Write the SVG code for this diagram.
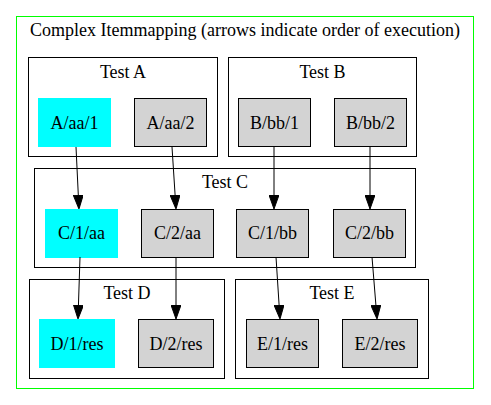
<svg xmlns="http://www.w3.org/2000/svg" width="491" height="405" viewBox="0 0 491 405">
<style>
text{font-family:"Liberation Serif","Times New Roman",serif;font-size:18px;text-anchor:middle;fill:#000}
.cl{fill:none;stroke:#000;stroke-width:1}
.g{fill:#d3d3d3;stroke:#000;stroke-width:1}
.c{fill:#00ffff;stroke:#00ffff;stroke-width:1}
.e{stroke:#000;stroke-width:1;fill:none;marker-end:url(#ah)}
</style>
<defs>
<marker id="ah" markerUnits="userSpaceOnUse" markerWidth="14" markerHeight="10" viewBox="0 0 14 10" refX="0" refY="5" orient="auto">
<path d="M0,0 L14,5 L0,10 z" fill="#000" stroke="#000" stroke-width="1"/>
</marker>
</defs>
<rect width="491" height="405" fill="#fff"/>
<g id="outer">
<rect x="16.5" y="16.5" width="457" height="372" fill="none" stroke="#00ff00" stroke-width="1"/>
<text x="245" y="36">Complex Itemmapping (arrows indicate order of execution)</text>
</g>
<g id="testA">
<rect class="cl" x="28.5" y="57.5" width="189" height="99"/>
<text x="123" y="78">Test A</text>
</g>
<g id="testB">
<rect class="cl" x="228.5" y="57.5" width="188" height="99"/>
<text x="322.5" y="78">Test B</text>
</g>
<g id="testC">
<rect class="cl" x="34.5" y="168.5" width="381" height="99"/>
<text x="225" y="188">Test C</text>
</g>
<g id="testD">
<rect class="cl" x="29.5" y="279.5" width="195" height="99"/>
<text x="127" y="299">Test D</text>
</g>
<g id="testE">
<rect class="cl" x="235.5" y="279.5" width="193" height="99"/>
<text x="332" y="299">Test E</text>
</g>
<g id="A_aa_1"><rect class="c" x="38.5" y="98.5" width="72" height="48"/><text x="74.5" y="128.5">A/aa/1</text></g>
<g id="A_aa_2"><rect class="g" x="134.5" y="98.5" width="72" height="48"/><text x="170.5" y="128.5">A/aa/2</text></g>
<g id="B_bb_1"><rect class="g" x="238.5" y="98.5" width="72" height="48"/><text x="274.5" y="128.5">B/bb/1</text></g>
<g id="B_bb_2"><rect class="g" x="334.5" y="98.5" width="72" height="48"/><text x="370.5" y="128.5">B/bb/2</text></g>
<g id="C_1_aa"><rect class="c" x="45.5" y="209.5" width="72" height="48"/><text x="81.5" y="239">C/1/aa</text></g>
<g id="C_2_aa"><rect class="g" x="141.5" y="209.5" width="72" height="48"/><text x="177.5" y="239">C/2/aa</text></g>
<g id="C_1_bb"><rect class="g" x="236.5" y="209.5" width="72" height="48"/><text x="272.5" y="239">C/1/bb</text></g>
<g id="C_2_bb"><rect class="g" x="333.5" y="209.5" width="72" height="48"/><text x="369.5" y="239">C/2/bb</text></g>
<g id="D_1_res"><rect class="c" x="39.5" y="319.5" width="75" height="48"/><text x="77" y="349.5">D/1/res</text></g>
<g id="D_2_res"><rect class="g" x="138.5" y="319.5" width="75" height="48"/><text x="176" y="349.5">D/2/res</text></g>
<g id="E_1_res"><rect class="g" x="246.5" y="319.5" width="72" height="48"/><text x="282.5" y="349.5">E/1/res</text></g>
<g id="E_2_res"><rect class="g" x="342.5" y="319.5" width="75" height="48"/><text x="380" y="349.5">E/2/res</text></g>
<g id="edges">
<line class="e" x1="76" y1="147" x2="78.3" y2="195"/>
<line class="e" x1="172" y1="147" x2="175.1" y2="195"/>
<line class="e" x1="274" y1="147" x2="274" y2="195"/>
<line class="e" x1="370" y1="147" x2="370" y2="195"/>
<line class="e" x1="80" y1="257" x2="78.45" y2="305"/>
<line class="e" x1="176" y1="257" x2="176" y2="305"/>
<line class="e" x1="276" y1="257" x2="279.1" y2="305"/>
<line class="e" x1="372" y1="257" x2="375.9" y2="305"/>
</g>
</svg>
